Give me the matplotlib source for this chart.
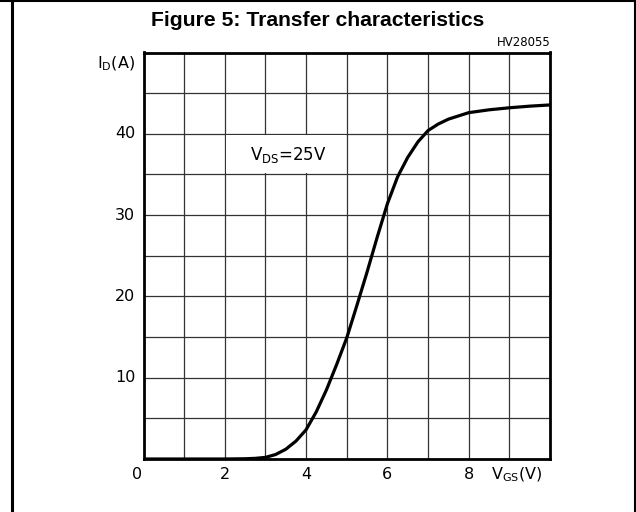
import matplotlib
matplotlib.use("Agg")
import matplotlib.pyplot as plt
from matplotlib.patches import Rectangle
from matplotlib.lines import Line2D

# Data
vgs = [0, 1, 2, 2.5, 2.75, 3, 3.25, 3.5, 3.75, 4, 4.25, 4.5, 4.75, 5, 5.25, 5.5,
       5.75, 6, 6.25, 6.5, 6.75, 7, 7.25, 7.5, 7.75, 8, 8.5, 9, 9.5, 10]
id_a = [0, 0, 0, 0.03, 0.08, 0.2, 0.55, 1.2, 2.2, 3.6, 5.8, 8.5, 11.6, 14.9, 18.9, 23.0,
        27.3, 31.4, 34.7, 37.1, 39.0, 40.4, 41.2, 41.8, 42.2, 42.6, 42.95, 43.2, 43.4, 43.55]
x_ticks = [0, 2, 4, 6, 8]
y_ticks = [10, 20, 30, 40]
title = "Figure 5: Transfer characteristics"
code = "HV28055"

fig = plt.figure(figsize=(6.36, 5.12), dpi=100)
ax = fig.add_axes([143.5 / 636, 53 / 512, (550 - 143.5) / 636, (459 - 52.5) / 512])
ax.set_xlim(0, 10)
ax.set_ylim(0, 50)

# grid
for v in range(1, 10):
    ax.axvline(v, color="#333333", lw=0.9, zorder=1)
for i in range(5, 50, 5):
    ax.axhline(i, color="#333333", lw=0.9, zorder=1)

# white box behind annotation
ax.add_patch(Rectangle((2.03, 35.15), 2.94, 4.7, facecolor="white", edgecolor="none", zorder=2))
ax.text(3.56, 37.4, r"V$_\mathregular{DS}$=25V", fontsize=12, ha="center", va="center",
        zorder=3, family="DejaVu Sans")

ax.plot(vgs, id_a, color="black", lw=2.3, zorder=4, solid_capstyle="butt",
        solid_joinstyle="round")

for s in ax.spines.values():
    s.set_linewidth(2.0)
    s.set_zorder(5)

ax.set_xticks([])
ax.set_yticks([])
ax.tick_params(length=0)

# tick labels
for v in x_ticks:
    xv = v - 0.17 if v == 0 else v
    ax.text(xv, -1.95, str(v), ha="center", va="center", fontsize=11.5, family="DejaVu Sans")
for i in y_ticks:
    ax.text(-0.2, i, str(i), ha="right", va="center", fontsize=11.5, family="DejaVu Sans")

ax.text(-0.2, 48.6, r"I$_\mathregular{D}$(A)", ha="right", va="center", fontsize=11.5,
        family="DejaVu Sans")
ax.text(8.55, -2.0, r"V$_\mathregular{GS}$(V)", ha="left", va="center", fontsize=11.5,
        family="DejaVu Sans")

fig.text(318 / 636, 1 - 20 / 512, title, ha="center", va="center", fontsize=15.2,
         fontweight="bold", family="Liberation Sans")
fig.text(551 / 636, 1 - 42 / 512, code, ha="right", va="center", fontsize=8.5,
         family="DejaVu Sans")

# outer frame (top, left, right)
fig.add_artist(Line2D([11.5 / 636, 11.5 / 636], [0, 1], color="black", lw=2.2, transform=fig.transFigure))
fig.add_artist(Line2D([635 / 636, 635 / 636], [0, 1], color="black", lw=1.5, transform=fig.transFigure))
fig.add_artist(Line2D([0, 1], [1 - 0.8 / 512, 1 - 0.8 / 512], color="black", lw=1.5, transform=fig.transFigure))

fig.savefig("out.png", dpi=100, facecolor="white")
